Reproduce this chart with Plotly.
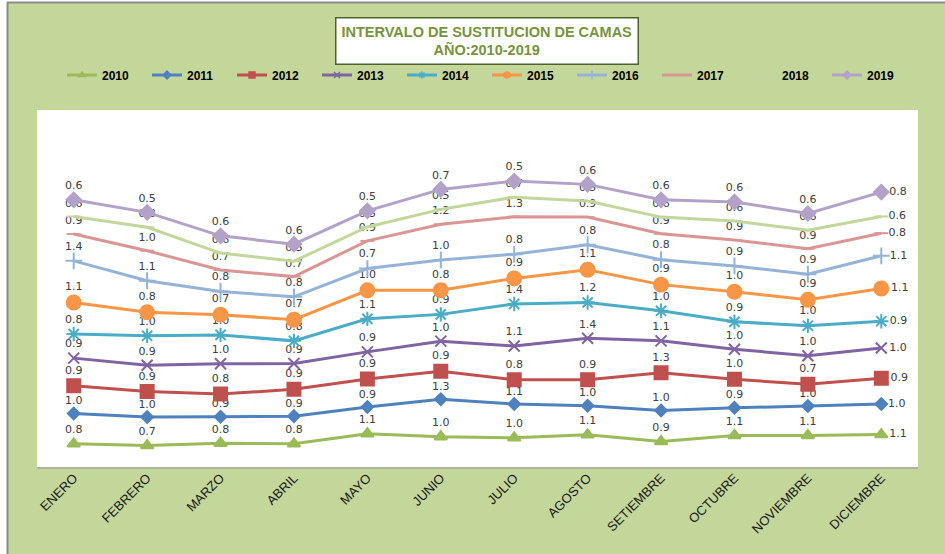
import numpy as np
import plotly.graph_objects as go

months = ["ENERO", "FEBRERO", "MARZO", "ABRIL", "MAYO", "JUNIO", "JULIO",
          "AGOSTO", "SETIEMBRE", "OCTUBRE", "NOVIEMBRE", "DICIEMBRE"]

y2010 = [0.78, 0.72, 0.80, 0.78, 1.12, 1.02, 0.98, 1.08, 0.86, 1.06, 1.06, 1.09]
y2011 = [1.02, 0.96, 0.89, 0.93, 0.90, 1.26, 1.14, 0.98, 1.04, 0.93, 0.99, 1.03]
y2012 = [0.93, 0.86, 0.76, 0.90, 0.94, 0.94, 0.81, 0.87, 1.27, 0.96, 0.73, 0.86]
y2013 = [0.93, 0.88, 1.02, 0.87, 0.91, 1.01, 1.14, 1.40, 1.07, 1.01, 0.96, 1.02]
y2014 = [0.81, 0.99, 0.97, 0.76, 1.11, 0.90, 1.41, 1.20, 1.01, 0.92, 1.01, 0.90]
y2015 = [1.06, 0.79, 0.68, 0.71, 0.96, 0.81, 0.86, 1.10, 0.88, 1.01, 0.87, 1.10]
y2016 = [1.40, 1.06, 0.78, 0.77, 0.73, 1.02, 0.81, 0.84, 0.84, 0.87, 0.86, 1.10]
y2017 = [0.90, 1.01, 0.72, 0.68, 0.93, 1.20, 1.26, 0.93, 0.87, 0.87, 0.86, 0.76]
y2018 = [0.59, 0.79, 0.57, 0.52, 0.47, 0.50, 0.66, 0.54, 0.56, 0.64, 0.62, 0.56]
y2019 = [0.56, 0.50, 0.58, 0.57, 0.54, 0.67, 0.54, 0.56, 0.58, 0.64, 0.56, 0.82]

years = ["2010", "2011", "2012", "2013", "2014", "2015", "2016", "2017", "2018", "2019"]
series = [y2010, y2011, y2012, y2013, y2014, y2015, y2016, y2017, y2018, y2019]

colors = ["#9bbb59", "#4f81bd", "#c0504d", "#8064a2", "#4bacc6",
          "#f79646", "#95b3d7", "#d99694", "#c3d69b", "#b3a2c7"]
symbols = ["triangle-up", "diamond", "square", "x-thin-open", "asterisk-open",
           "circle", "cross-thin-open", "line-ew-open", "line-ew-open", "diamond"]
msizes = [11, 9, 13, 11, 12, 14, 12, 10, 10, 11]

W, H = 945, 554
L, R, T, B = 37, 918, 110, 467

fig = go.Figure()
cum = np.zeros(len(months))
for name, vals, col, sym, ms in zip(years, series, colors, symbols, msizes):
    vals = np.array(vals)
    cum = cum + vals
    pos = ["top center"] * (len(months) - 1) + ["middle right"]
    fig.add_trace(go.Scatter(
        x=months, y=cum.copy(), name=name, mode="lines+markers+text",
        line=dict(color=col, width=3),
        marker=dict(symbol=sym, size=ms, color=col,
                    line=dict(color=col, width=2)),
        text=[f"{v:.1f}" for v in vals], textposition=pos,
        textfont=dict(family="DejaVu Sans", size=11, color="#404040"),
        cliponaxis=False, showlegend=False, legendgroup=name,
    ))
# legend entries (small markers like the Excel legend)
for name, col, sym in zip(years, colors, symbols):
    fig.add_trace(go.Scatter(
        x=[None], y=[None], name=name, mode="lines+markers",
        line=dict(color=col, width=3),
        marker=dict(symbol=sym, size=6, color=col, line=dict(color=col, width=1.5)),
        legendgroup=name, showlegend=True,
    ))

green = "#c4d79b"

def px_x(p):
    return (p - L) / (R - L)

def px_y(p):
    return (B - p) / (B - T)

fig.update_layout(
    width=W, height=H,
    margin=dict(l=L, r=W - R, t=T, b=H - B, autoexpand=False),
    paper_bgcolor=green, plot_bgcolor="white",
    showlegend=True,
    legend=dict(orientation="h", x=px_x(62), xanchor="left",
                y=px_y(75), yanchor="middle",
                font=dict(family="Liberation Sans Narrow, Liberation Sans, sans-serif",
                          size=12, color="black", weight="bold"),
                entrywidth=40, entrywidthmode="pixels",
                itemwidth=30, tracegroupgap=0, bgcolor="rgba(0,0,0,0)"),
    xaxis=dict(range=[-0.5, 11.5], showgrid=False, showline=False, ticks="",
               tickangle=-45, zeroline=False, automargin=False,
               tickfont=dict(family="Liberation Sans Narrow, Liberation Sans, sans-serif",
                             size=13, color="#1a1a1a")),
    yaxis=dict(range=[0, 12], visible=False, showgrid=False, zeroline=False,
               automargin=False),
    annotations=[dict(
        text="INTERVALO DE SUSTITUCION DE CAMAS<br>AÑO:2010-2019",
        xref="paper", yref="paper",
        x=px_x(487), y=px_y(41),
        xanchor="center", yanchor="middle", showarrow=False,
        font=dict(family="Liberation Sans Narrow, Liberation Sans, sans-serif",
                  size=14.5, color="#77933c", weight="bold"),
        bgcolor="white", bordercolor="#4f6228", borderwidth=1.5,
        borderpad=5, align="center")],
    shapes=[
        # white page margin outside the chart frame
        dict(type="rect", xref="paper", yref="paper",
             x0=px_x(0), x1=px_x(7), y0=px_y(H), y1=px_y(0),
             fillcolor="white", line=dict(width=0)),
        dict(type="rect", xref="paper", yref="paper",
             x0=px_x(0), x1=px_x(W), y0=px_y(2), y1=px_y(0),
             fillcolor="white", line=dict(width=0)),
        dict(type="line", xref="paper", yref="paper",
             x0=px_x(7), x1=px_x(W), y0=px_y(2.5), y1=px_y(2.5),
             line=dict(color="#8c8c8c", width=2)),
        dict(type="line", xref="paper", yref="paper",
             x0=px_x(7.5), x1=px_x(7.5), y0=px_y(2), y1=px_y(H),
             line=dict(color="#8c8c8c", width=2)),
        dict(type="line", xref="paper", yref="paper",
             x0=0, x1=1, y0=px_y(B + 1), y1=px_y(B + 1),
             line=dict(color="#a6a6a6", width=1.5)),
    ],
)

fig.write_html("out.html",
               config={"displayModeBar": False},
               post_script="document.body.style.margin='0';"
                           "document.body.style.overflow='hidden';")
